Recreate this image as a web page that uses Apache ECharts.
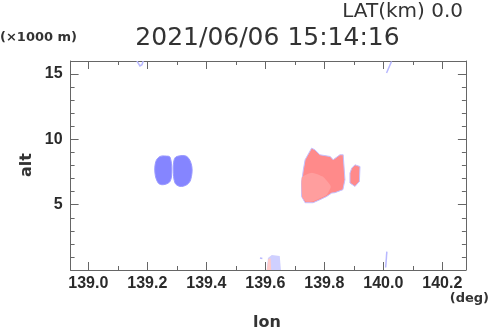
<!DOCTYPE html>
<html><head><meta charset="utf-8">
<script src="https://cdn.jsdelivr.net/npm/echarts@6/dist/echarts.min.js"></script>
<style>html,body{margin:0;padding:0;background:#fff}#c{width:490px;height:331px}</style>
</head><body><div id="c"></div>
<script>
// ---- data ----
const lonTickLabels = ['139.0','139.2','139.4','139.6','139.8','140.0','140.2'];
const altTickLabels = ['5','10','15'];
const lonRange = [138.94, 140.28];
const altRange = [0, 16];
const titleText = '2021/06/06 15:14:16';
const latText = 'LAT(km) 0.0';
const altUnit = '(\u00d71000 m)';
const lonUnit = '(deg)';
const xName = 'lon';
const yName = 'alt';

// echo outlines [lon(deg), alt(x1000 m)]
const blueEchoWest = [[139.243,8.69],[139.265,8.72],[139.277,8.64],[139.283,7.67],[139.277,6.78],[139.254,6.53],[139.237,6.66],[139.226,7.42],[139.229,8.31]];
const blueEchoEast = [[139.300,8.69],[139.334,8.69],[139.351,7.92],[139.347,6.91],[139.334,6.53],[139.311,6.40],[139.294,6.66],[139.288,7.67],[139.291,8.44]];
const redEchoMain = [[139.757,9.33],[139.768,9.20],[139.785,8.82],[139.820,8.69],[139.830,8.44],[139.853,8.82],[139.864,8.82],[139.870,6.91],[139.863,6.15],[139.836,5.92],[139.825,5.89],[139.808,5.63],[139.785,5.38],[139.762,5.15],[139.735,5.15],[139.723,5.63],[139.723,6.68],[139.729,7.67],[139.735,8.44]];
const redEchoInner = [[139.724,7.10],[139.758,7.45],[139.795,7.15],[139.822,6.40],[139.808,5.75],[139.785,5.50],[139.760,5.25],[139.737,5.25],[139.725,5.60]];
const redEchoSmall = [[139.904,8.05],[139.921,7.92],[139.919,6.78],[139.904,6.40],[139.887,6.66],[139.887,7.42],[139.893,7.80]];
const faintBlueBottom = [[139.605,0],[139.609,0.92],[139.622,1.15],[139.649,1.07],[139.653,0]];
const faintRedBottom = [[139.605,0],[139.610,0.85],[139.618,0.90],[139.620,0]];
const faintWispTopWest = [[139.165,16],[139.175,15.62],[139.182,15.72],[139.186,16]];
const faintWispTopEast = [[140.028,15.97],[140.011,15.08]];
const faintWispBottomEast = [[140.012,1.41],[140.008,0.19]];
const faintWispBottomWest = [[139.582,0.92],[139.590,0.88]];

// ---- styles ----
const TXT = '#333';
const AX = '#666';

function polySeries(list, style, smooth) {
  return {
    type: 'custom', coordinateSystem: 'cartesian2d', xAxisIndex: 0, yAxisIndex: 0,
    silent: true, clip: true,
    data: list.map(p => p[0]),
    renderItem: (params, api) => {
      const pts = list[params.dataIndex].map(q => api.coord(q));
      return { type: 'polygon', shape: { points: pts, smooth: smooth || 0 }, style: style };
    }
  };
}
function lineSeries(list, style) {
  return {
    type: 'custom', coordinateSystem: 'cartesian2d', xAxisIndex: 0, yAxisIndex: 0,
    silent: true, clip: true,
    data: list.map(p => p[0]),
    renderItem: (params, api) => {
      const pts = list[params.dataIndex].map(q => api.coord(q));
      return { type: 'polyline', shape: { points: pts }, style: style };
    }
  };
}

function xAx(pos, split, len, withLine, withLabel) {
  return {
    type: 'value', position: pos, min: lonRange[0], max: lonRange[1], splitNumber: split,
    axisLine: { show: withLine, onZero: false, lineStyle: { color: AX, width: 1 } },
    axisTick: { show: true, inside: true, length: len, lineStyle: { color: AX, width: 1 } },
    axisLabel: withLabel ? {
      show: true, showMinLabel: false, showMaxLabel: false, margin: 6,
      color: '#2a2a2a', fontFamily: 'Liberation Sans', fontWeight: 'bold', fontSize: 16,
      formatter: v => { const s = v.toFixed(1); return lonTickLabels.includes(s) ? s : ''; }
    } : { show: false },
    splitLine: { show: false }
  };
}
function yAx(pos, interval, len, withLine, withLabel) {
  return {
    type: 'value', position: pos, min: altRange[0], max: altRange[1], interval: interval,
    axisLine: { show: withLine, onZero: false, lineStyle: { color: AX, width: 1 } },
    axisTick: { show: true, inside: true, length: len, lineStyle: { color: AX, width: 1 } },
    axisLabel: withLabel ? {
      show: true, showMinLabel: false, showMaxLabel: false, margin: 8,
      color: '#2a2a2a', fontFamily: 'Liberation Sans', fontWeight: 'bold', fontSize: 16,
      formatter: v => { const s = String(v); return altTickLabels.includes(s) ? s : ''; }
    } : { show: false },
    splitLine: { show: false }
  };
}

const chart = echarts.init(document.getElementById('c'), null, { renderer: 'canvas' });
chart.setOption({
  animation: false,
  backgroundColor: '#fff',
  grid: { left: 70.6, top: 61, width: 395.3, height: 209 },
  xAxis: [
    xAx('bottom', 7, 8, true, true),
    xAx('bottom', 14, 4, false, false),
    xAx('top', 7, 8, true, false),
    xAx('top', 14, 4, false, false)
  ],
  yAxis: [
    yAx('left', 5, 8, true, true),
    yAx('left', 1, 4, false, false),
    yAx('right', 5, 8, true, false),
    yAx('right', 1, 4, false, false)
  ],
  series: [
    polySeries([faintBlueBottom], { fill: '#cfd0ff' }),
    polySeries([faintRedBottom], { fill: '#ffcaca' }),
    lineSeries([faintWispTopWest, faintWispTopEast, faintWispBottomEast, faintWispBottomWest], { stroke: '#b8b8ff', lineWidth: 1.5, fill: null }),
    polySeries([blueEchoWest, blueEchoEast], { fill: '#8585ff', stroke: '#9a9aff', lineWidth: 1 }, 0.35),
    polySeries([redEchoMain, redEchoSmall], { fill: '#ff8a8a', stroke: '#c4c0ff', lineWidth: 1 }),
    polySeries([redEchoInner], { fill: '#ff9e9e' }, 0.15)
  ],
  graphic: [
    { type: 'text', x: 463, y: 12, style: { text: latText, textAlign: 'right', textVerticalAlign: 'middle', fill: TXT, font: '20px "DejaVu Sans"' } },
    { type: 'text', x: 267.5, y: 38, style: { text: titleText, textAlign: 'center', textVerticalAlign: 'middle', fill: TXT, font: '25px "DejaVu Sans"' } },
    { type: 'text', x: 0, y: 38, style: { text: altUnit, textAlign: 'left', textVerticalAlign: 'middle', fill: TXT, font: 'bold 13px "DejaVu Sans"' } },
    { type: 'text', x: 489, y: 299, style: { text: lonUnit, textAlign: 'right', textVerticalAlign: 'middle', fill: TXT, font: 'bold 13px "DejaVu Sans"' } },
    { type: 'text', x: 267, y: 323, style: { text: xName, textAlign: 'center', textVerticalAlign: 'middle', fill: TXT, font: 'bold 16px "DejaVu Sans"' } },
    { type: 'text', x: 27, y: 165, rotation: Math.PI / 2, style: { text: yName, textAlign: 'center', textVerticalAlign: 'middle', fill: TXT, font: 'bold 16px "DejaVu Sans"' } }
  ]
});
</script></body></html>
